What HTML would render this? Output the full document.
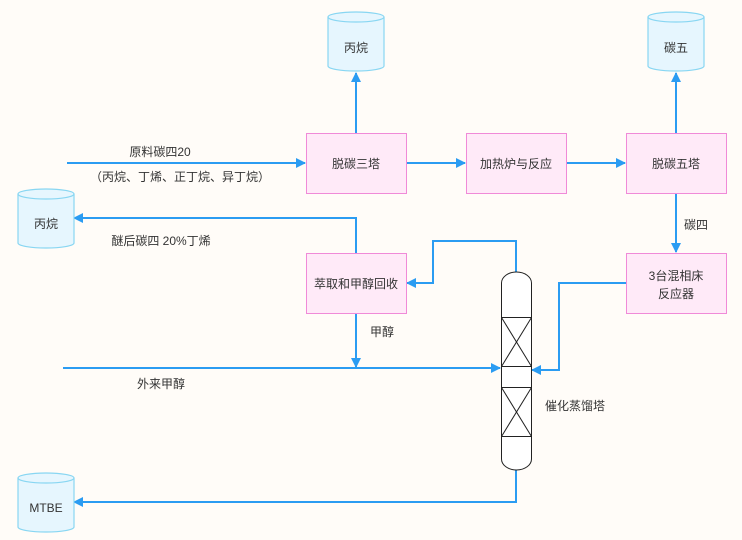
<!DOCTYPE html>
<html><head><meta charset="utf-8"><style>
html,body{margin:0;padding:0;background:#fffcf8;}
svg{display:block;}
text{font-family:"Liberation Sans","Noto Sans CJK SC",sans-serif;font-size:12px;fill:#333;}
</style></head><body>
<svg width="742" height="540" viewBox="0 0 742 540" xmlns="http://www.w3.org/2000/svg">
<defs>
<marker id="a" markerWidth="10" markerHeight="10" refX="9" refY="5" orient="auto" markerUnits="userSpaceOnUse">
<path d="M0,0 L10,5 L0,10 Z" fill="#2b9cf2"/></marker>
</defs>
<rect width="742" height="540" fill="#fffcf8"/>
<g fill="none" stroke="#2b9cf2" stroke-width="2">
<path d="M67,163 H305" marker-end="url(#a)"/>
<path d="M356,133 V73" marker-end="url(#a)"/>
<path d="M406,163 H465" marker-end="url(#a)"/>
<path d="M566,163 H625" marker-end="url(#a)"/>
<path d="M676,133 V73" marker-end="url(#a)"/>
<path d="M676,193 V252" marker-end="url(#a)"/>
<path d="M356,253 V218 H74" marker-end="url(#a)"/>
<path d="M516,272 V241 H433 V283 H407" marker-end="url(#a)"/>
<path d="M356,313 V367" marker-end="url(#a)"/>
<path d="M63,368 H500" marker-end="url(#a)"/>
<path d="M626,283 H559 V370 H532" marker-end="url(#a)"/>
<path d="M516,470 V502 H74" marker-end="url(#a)"/>
</g>
<g fill="#ffeaf8" stroke="#f08ad8" stroke-width="1">
<rect x="306.5" y="133.5" width="100" height="60"/>
<rect x="466.5" y="133.5" width="100" height="60"/>
<rect x="626.5" y="133.5" width="100" height="60"/>
<rect x="306.5" y="253.5" width="100" height="60"/>
<rect x="626.5" y="253.5" width="100" height="60"/>
</g>
<g fill="#e6f6fe" stroke="#88d6f2" stroke-width="1.2">
<path d="M328,17 V66 A28,5 0 0 0 384,66 V17 A28,5 0 0 0 328,17 Z"/><path d="M328,17 A28,5 0 0 0 384,17"/>
<path d="M648,17 V66 A28,5 0 0 0 704,66 V17 A28,5 0 0 0 648,17 Z"/><path d="M648,17 A28,5 0 0 0 704,17"/>
<path d="M18,194 V243 A28,5 0 0 0 74,243 V194 A28,5 0 0 0 18,194 Z"/><path d="M18,194 A28,5 0 0 0 74,194"/>
<path d="M18,478 V527 A28,5 0 0 0 74,527 V478 A28,5 0 0 0 18,478 Z"/><path d="M18,478 A28,5 0 0 0 74,478"/>
</g>
<g fill="#fff" stroke="#222" stroke-width="1">
<path d="M501.5,283 A15,11 0 0 1 531.5,283 V459 A15,11 0 0 1 501.5,459 Z"/>
<rect x="501.5" y="317.5" width="30" height="49"/>
<path d="M501.5,317.5 L531.5,366.5 M531.5,317.5 L501.5,366.5"/>
<rect x="501.5" y="387.5" width="30" height="49"/>
<path d="M501.5,387.5 L531.5,436.5 M531.5,387.5 L501.5,436.5"/>
</g>
<g text-anchor="middle">
<text x="356" y="168">脱碳三塔</text>
<text x="516" y="168">加热炉与反应</text>
<text x="676" y="168">脱碳五塔</text>
<text x="356" y="288">萃取和甲醇回收</text>
<text x="676" y="280">3台混相床</text>
<text x="676" y="298">反应器</text>
<text x="356" y="52">丙烷</text>
<text x="676" y="52">碳五</text>
<text x="46" y="228">丙烷</text>
<text x="46" y="512">MTBE</text>
<text x="160" y="156">原料碳四20</text>
<text x="180" y="181">（丙烷、丁烯、正丁烷、异丁烷）</text>
<text x="161" y="245">醚后碳四 20%丁烯</text>
</g>
<text x="684" y="229">碳四</text>
<text x="370" y="336">甲醇</text>
<text x="137" y="388">外来甲醇</text>
<text x="545" y="410">催化蒸馏塔</text>
</svg>
</body></html>
